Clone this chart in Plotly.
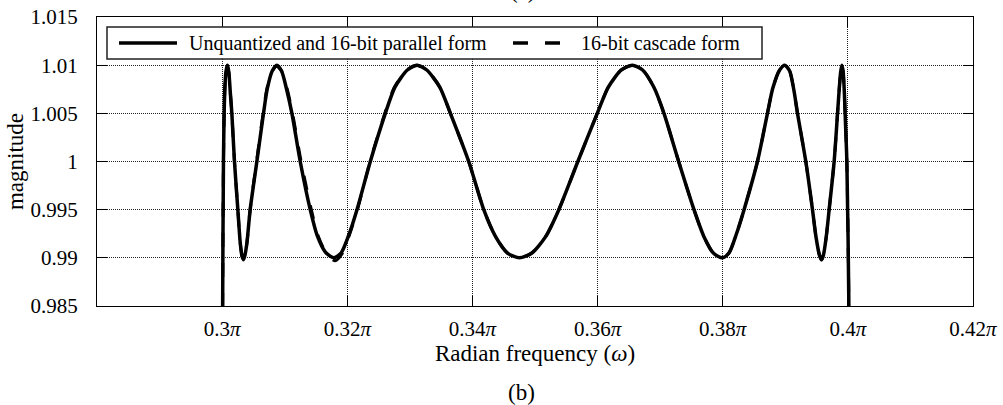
import plotly.graph_objects as go

# Frequency in units of pi, magnitude
w_parallel = [0.29990, 0.30000, 0.30008, 0.30021, 0.30040, 0.30060, 0.30085, 0.30108, 0.30130,
              0.30155, 0.30197, 0.30251, 0.30290, 0.30320, 0.30341, 0.30362, 0.30395, 0.30448,
              0.30555, 0.30661, 0.30720, 0.30800, 0.30875, 0.30950, 0.31030, 0.31115, 0.31248,
              0.31408, 0.31520, 0.31650, 0.31781, 0.31900, 0.32020, 0.32155, 0.32368, 0.32608,
              0.32760, 0.32960, 0.33115, 0.33270, 0.33480, 0.33648, 0.33941, 0.34181, 0.34370,
              0.34560, 0.34752, 0.34950, 0.35170, 0.35381, 0.35685, 0.35995, 0.36170, 0.36380,
              0.36555, 0.36720, 0.36900, 0.37061, 0.37296, 0.37541, 0.37700, 0.37850, 0.37995,
              0.38100, 0.38220, 0.38341, 0.38555, 0.38715, 0.38800, 0.38910, 0.38992, 0.39070,
              0.39135, 0.39195, 0.39328, 0.39435, 0.39490, 0.39545, 0.39579, 0.39610, 0.39655,
              0.39701, 0.39781, 0.39835, 0.39862, 0.39885, 0.39904, 0.39925, 0.39945, 0.39962,
              0.39984, 0.40016, 0.40030]
mag_parallel = [0.9600, 0.9750, 0.9850, 1.0000, 1.0070, 1.0093, 1.0100, 1.0092, 1.0072,
                1.0050, 1.0000, 0.9950, 0.9915, 0.9901, 0.9898, 0.9902, 0.9915, 0.9950,
                1.0000, 1.0050, 1.0075, 1.0094, 1.0100, 1.0094, 1.0075, 1.0050, 1.0000,
                0.9950, 0.9923, 0.9906, 0.9900, 0.9905, 0.9923, 0.9950, 1.0000, 1.0050,
                1.0077, 1.0095, 1.0100, 1.0095, 1.0077, 1.0050, 1.0000, 0.9950, 0.9922,
                0.9905, 0.9900, 0.9905, 0.9922, 0.9950, 1.0000, 1.0050, 1.0077, 1.0095,
                1.0100, 1.0095, 1.0077, 1.0050, 1.0000, 0.9950, 0.9922, 0.9905, 0.9900,
                0.9905, 0.9925, 0.9950, 1.0000, 1.0050, 1.0076, 1.0095, 1.0100, 1.0094,
                1.0075, 1.0050, 1.0000, 0.9950, 0.9922, 0.9903, 0.9898, 0.9903, 0.9922,
                0.9950, 1.0000, 1.0050, 1.0075, 1.0093, 1.0100, 1.0093, 1.0070, 1.0040,
                1.0000, 0.9850, 0.9600]

w_cascade = [0.29990, 0.30000, 0.30008, 0.30021, 0.30040, 0.30060, 0.30085, 0.30108, 0.30130,
             0.30155, 0.30197, 0.30251, 0.30290, 0.30320, 0.30341, 0.30362, 0.30395, 0.30448,
             0.30550, 0.30655, 0.30713, 0.30792, 0.30868, 0.30950, 0.31040, 0.31125, 0.31262,
             0.31425, 0.31538, 0.31672, 0.31805, 0.31915, 0.32030, 0.32162, 0.32364, 0.32600,
             0.32752, 0.32952, 0.33108, 0.33270, 0.33480, 0.33648, 0.33941, 0.34181, 0.34370,
             0.34560, 0.34752, 0.34950, 0.35170, 0.35381, 0.35685, 0.35995, 0.36170, 0.36380,
             0.36555, 0.36720, 0.36900, 0.37061, 0.37296, 0.37541, 0.37700, 0.37850, 0.37995,
             0.38100, 0.38220, 0.38341, 0.38555, 0.38715, 0.38800, 0.38910, 0.38992, 0.39070,
             0.39135, 0.39195, 0.39328, 0.39435, 0.39490, 0.39545, 0.39579, 0.39610, 0.39655,
             0.39701, 0.39781, 0.39835, 0.39862, 0.39885, 0.39904, 0.39925, 0.39945, 0.39962,
             0.39984, 0.40016, 0.40030]
mag_cascade = [0.9600, 0.9750, 0.9850, 1.0000, 1.0070, 1.0093, 1.0100, 1.0092, 1.0072,
               1.0050, 1.0000, 0.9950, 0.9915, 0.9901, 0.9898, 0.9902, 0.9915, 0.9950,
               1.0000, 1.0050, 1.0075, 1.0093, 1.0099, 1.0094, 1.0075, 1.0050, 1.0000,
               0.9950, 0.9922, 0.9904, 0.9897, 0.9904, 0.9923, 0.9950, 1.0000, 1.0050,
               1.0077, 1.0095, 1.0100, 1.0095, 1.0077, 1.0050, 1.0000, 0.9950, 0.9922,
               0.9905, 0.9900, 0.9905, 0.9922, 0.9950, 1.0000, 1.0050, 1.0077, 1.0095,
               1.0100, 1.0095, 1.0077, 1.0050, 1.0000, 0.9950, 0.9922, 0.9905, 0.9900,
               0.9905, 0.9925, 0.9950, 1.0000, 1.0050, 1.0076, 1.0095, 1.0100, 1.0094,
               1.0075, 1.0050, 1.0000, 0.9950, 0.9922, 0.9903, 0.9898, 0.9903, 0.9922,
               0.9950, 1.0000, 1.0050, 1.0075, 1.0093, 1.0100, 1.0093, 1.0070, 1.0040,
               1.0000, 0.9850, 0.9600]

x_tickvals = [0.30, 0.32, 0.34, 0.36, 0.38, 0.40, 0.42]
x_ticktext = ["0.3<i>π</i>", "0.32<i>π</i>", "0.34<i>π</i>", "0.36<i>π</i>",
              "0.38<i>π</i>", "0.4<i>π</i>", "0.42<i>π</i>"]
y_tickvals = [0.985, 0.99, 0.995, 1.0, 1.005, 1.01, 1.015]
y_ticktext = ["0.985", "0.99", "0.995", "1", "1.005", "1.01", "1.015"]

legend_labels = ["Unquantized and 16-bit parallel form", "16-bit cascade form"]

FONT = "Liberation Serif"
W, H = 1003, 405
L, R, T, B = 97, 30, 17, 99
PW, PH = W - L - R, H - T - B


def px(x):
    return (x - L) / PW


def py(y):
    return (H - B - y) / PH


fig = go.Figure()
fig.add_trace(go.Scatter(x=w_parallel, y=mag_parallel, mode="lines",
                         line=dict(color="black", width=3.5, shape="spline", smoothing=0.7),
                         name=legend_labels[0], showlegend=False))
fig.add_trace(go.Scatter(x=w_cascade, y=mag_cascade, mode="lines",
                         line=dict(color="black", width=3, dash="14px,16px", shape="spline", smoothing=0.7),
                         name=legend_labels[1], showlegend=False))

axis_common = dict(
    showline=True, linecolor="black", linewidth=1, mirror="ticks",
    ticks="inside", ticklen=10, tickcolor="black", tickwidth=1,
    showgrid=True, gridcolor="#222", gridwidth=1, griddash="1px,1px",
    zeroline=False, tickfont=dict(family=FONT, size=21, color="black"),
)

fig.update_xaxes(range=[0.28, 0.42], tickmode="array", tickvals=x_tickvals, ticktext=x_ticktext,
                 title=dict(text="Radian frequency (<i>ω</i>)", font=dict(family=FONT, size=23, color="black"),
                            standoff=4),
                 ticklabelstandoff=4, **axis_common)
fig.update_yaxes(range=[0.985, 1.015], tickmode="array", tickvals=y_tickvals, ticktext=y_ticktext,
                 title=dict(text="magnitude", font=dict(family=FONT, size=23, color="black"), standoff=0),
                 ticklabelstandoff=14, **axis_common)

# Legend box drawn as layout decoration
shapes = [
    dict(type="rect", xref="paper", yref="paper", x0=px(107), x1=px(762), y0=py(59), y1=py(27),
         line=dict(color="#222", width=1.5), fillcolor="white", layer="above"),
    dict(type="line", xref="paper", yref="paper", x0=px(119), x1=px(177), y0=py(43), y1=py(43),
         line=dict(color="black", width=3.5), layer="above"),
    dict(type="line", xref="paper", yref="paper", x0=px(513), x1=px(562), y0=py(43), y1=py(43),
         line=dict(color="black", width=3.5, dash="15px,17px"), layer="above"),
]
annotations = [
    dict(text=legend_labels[0], xref="paper", yref="paper", x=px(187), y=py(43),
         xanchor="left", yanchor="middle", showarrow=False,
         font=dict(family=FONT, size=20, color="black")),
    dict(text=legend_labels[1], xref="paper", yref="paper", x=px(579), y=py(43),
         xanchor="left", yanchor="middle", showarrow=False,
         font=dict(family=FONT, size=20, color="black")),
    dict(text="(b)", xref="paper", yref="paper", x=px(521), y=py(392),
         xanchor="center", yanchor="middle", showarrow=False,
         font=dict(family=FONT, size=23, color="black")),
    dict(text="(a)", xref="paper", yref="paper", x=px(523), y=py(-9),
         xanchor="center", yanchor="middle", showarrow=False,
         font=dict(family=FONT, size=23, color="black")),
]

fig.update_layout(
    width=W, height=H,
    margin=dict(l=L, r=R, t=T, b=B, autoexpand=False),
    paper_bgcolor="white", plot_bgcolor="white",
    font=dict(family=FONT, size=20, color="black"),
    shapes=shapes, annotations=annotations, showlegend=False,
)

fig.write_html("out.html", config={"displayModeBar": False},
               post_script="document.body.style.margin='0';document.body.style.overflow='hidden';")
